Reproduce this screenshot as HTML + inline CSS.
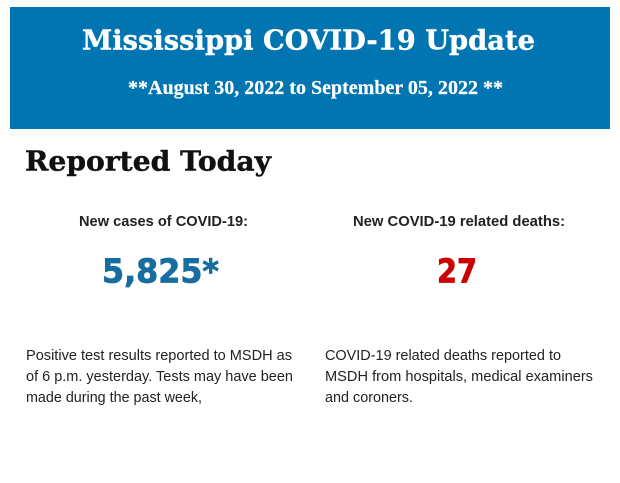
<!DOCTYPE html>
<html>
<head>
<meta charset="utf-8">
<style>
  html, body { margin: 0; padding: 0; background: #ffffff; }
  body { width: 620px; height: 483px; overflow: hidden; }
  svg { display: block; }
  .serifb { font-family: "DejaVu Serif", "Liberation Serif", serif; font-weight: bold; }
  .timesb { font-family: "Liberation Serif", serif; font-weight: bold; }
  .sansb { font-family: "Liberation Sans", Arial, sans-serif; font-weight: bold; }
  .sans { font-family: "Liberation Sans", Arial, sans-serif; }
  .num { font-family: "DejaVu Sans", "Liberation Sans", sans-serif; font-weight: bold; }
</style>
</head>
<body>
<svg width="620" height="483" viewBox="0 0 620 483" xmlns="http://www.w3.org/2000/svg">
  <rect x="0" y="0" width="620" height="483" fill="#ffffff"/>
  <rect x="10" y="7" width="600" height="122" fill="#0075b1"/>

  <text x="82" y="49.3" class="serifb" font-size="27.5" fill="#ffffff" stroke="#ffffff" stroke-width="0.4" textLength="453" lengthAdjust="spacingAndGlyphs">Mississippi COVID-19 Update</text>
  <text x="128" y="94" class="timesb" font-size="19.5" fill="#ffffff" stroke="#ffffff" stroke-width="0.2" textLength="375" lengthAdjust="spacingAndGlyphs">**August 30, 2022 to September 05, 2022 **</text>

  <text x="25" y="170.7" class="serifb" font-size="27" fill="#111111" stroke="#111111" stroke-width="0.4" textLength="246" lengthAdjust="spacingAndGlyphs">Reported Today</text>

  <text x="79" y="226" class="sansb" font-size="15" fill="#222222" textLength="169" lengthAdjust="spacingAndGlyphs">New cases of COVID-19:</text>
  <text x="353" y="226" class="sansb" font-size="15" fill="#222222" textLength="212" lengthAdjust="spacingAndGlyphs">New COVID-19 related deaths:</text>

  <text x="102" y="282.5" class="num" font-size="33" fill="#176da0" stroke="#176da0" stroke-width="0.8" textLength="117" lengthAdjust="spacingAndGlyphs">5,825*</text>
  <text x="437" y="282.5" class="num" font-size="33" fill="#cc0000" stroke="#cc0000" stroke-width="0.8" textLength="40" lengthAdjust="spacingAndGlyphs">27</text>

  <text x="26" y="360" class="sans" font-size="14.5" fill="#222222" textLength="266" lengthAdjust="spacingAndGlyphs">Positive test results reported to MSDH as</text>
  <text x="26" y="381" class="sans" font-size="14.5" fill="#222222" textLength="267" lengthAdjust="spacingAndGlyphs">of 6 p.m. yesterday. Tests may have been</text>
  <text x="26" y="402" class="sans" font-size="14.5" fill="#222222" textLength="176" lengthAdjust="spacingAndGlyphs">made during the past week,</text>

  <text x="325" y="360" class="sans" font-size="14.5" fill="#222222" textLength="236" lengthAdjust="spacingAndGlyphs">COVID-19 related deaths reported to</text>
  <text x="325" y="381" class="sans" font-size="14.5" fill="#222222" textLength="268" lengthAdjust="spacingAndGlyphs">MSDH from hospitals, medical examiners</text>
  <text x="325" y="402" class="sans" font-size="14.5" fill="#222222" textLength="88" lengthAdjust="spacingAndGlyphs">and coroners.</text>
</svg>
</body>
</html>
